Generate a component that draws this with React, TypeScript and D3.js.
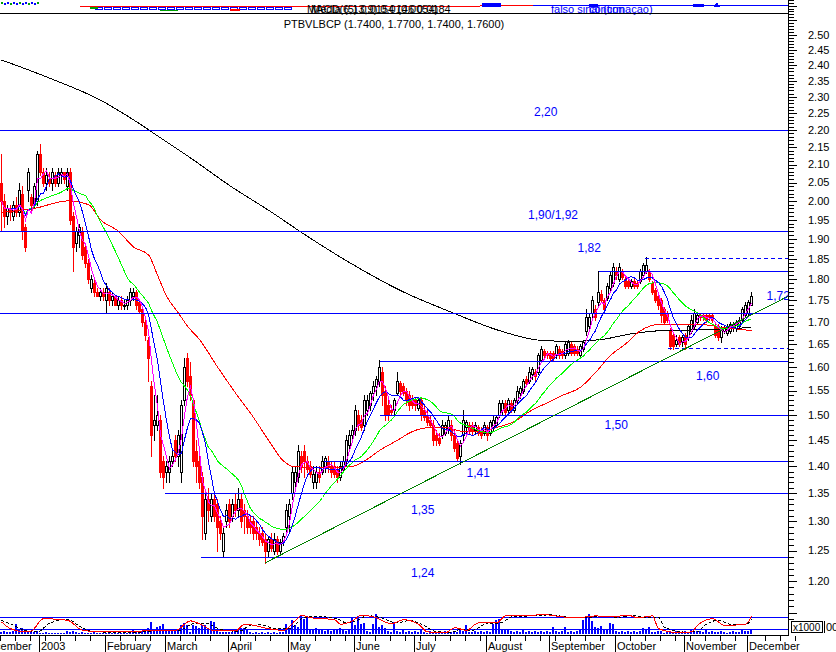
import React from 'react';
import * as d3 from 'd3';

const W = 836;
const H = 652;

// [open, high, low, close] per trading day (PTBVLBCP, Dec 2002 - Dec 2003)
const ohlc: [number, number, number, number][] = [
  [2.05, 2.13, 1.92, 2.0], [2.0, 2.02, 1.93, 1.96], [1.96, 1.99, 1.94, 1.98], [1.98, 1.99, 1.95, 1.97],
  [1.96, 2.0, 1.95, 1.99], [1.99, 2.01, 1.96, 1.97], [1.97, 2.05, 1.96, 2.03], [2.02, 2.04, 1.9, 1.92],
  [1.93, 1.94, 1.87, 1.88], [2.03, 2.09, 2.0, 2.08], [2.01, 2.02, 1.97, 1.99], [1.99, 2.05, 1.98, 2.04],
  [2.0, 2.14, 1.99, 2.13], [2.13, 2.16, 2.07, 2.08], [2.08, 2.09, 2.04, 2.05], [2.05, 2.09, 2.03, 2.07],
  [2.06, 2.08, 2.04, 2.05], [2.05, 2.09, 2.03, 2.08], [2.07, 2.08, 2.04, 2.05], [2.05, 2.09, 2.04, 2.08],
  [2.07, 2.09, 2.05, 2.08], [2.08, 2.08, 2.05, 2.06], [2.04, 2.09, 2.03, 2.08], [2.08, 2.09, 1.94, 1.95],
  [1.96, 1.97, 1.82, 1.88], [1.89, 1.93, 1.87, 1.92], [1.91, 1.94, 1.88, 1.93], [1.92, 1.93, 1.85, 1.86],
  [1.88, 1.89, 1.83, 1.84], [1.84, 1.85, 1.79, 1.8], [1.78, 1.81, 1.77, 1.8], [1.79, 1.8, 1.76, 1.77],
  [1.77, 1.78, 1.76, 1.76], [1.76, 1.78, 1.75, 1.77], [1.77, 1.78, 1.75, 1.76], [1.75, 1.79, 1.72, 1.78],
  [1.77, 1.78, 1.74, 1.75], [1.75, 1.77, 1.74, 1.76], [1.76, 1.76, 1.74, 1.74], [1.74, 1.76, 1.73, 1.75],
  [1.75, 1.76, 1.73, 1.74], [1.74, 1.75, 1.73, 1.74], [1.74, 1.76, 1.73, 1.75], [1.75, 1.78, 1.74, 1.77],
  [1.76, 1.78, 1.75, 1.77], [1.77, 1.775, 1.73, 1.74], [1.745, 1.75, 1.72, 1.725], [1.73, 1.735, 1.69, 1.7],
  [1.7, 1.705, 1.66, 1.67], [1.66, 1.665, 1.57, 1.62], [1.56, 1.57, 1.42, 1.46], [1.48, 1.54, 1.45, 1.49],
  [1.48, 1.54, 1.47, 1.5], [1.49, 1.5, 1.38, 1.39], [1.41, 1.42, 1.36, 1.38], [1.39, 1.41, 1.37, 1.4],
  [1.39, 1.42, 1.37, 1.41], [1.41, 1.43, 1.4, 1.42], [1.45, 1.46, 1.41, 1.42], [1.42, 1.47, 1.4, 1.46],
  [1.39, 1.53, 1.37, 1.52], [1.53, 1.62, 1.52, 1.6], [1.62, 1.63, 1.56, 1.57], [1.58, 1.61, 1.53, 1.54],
  [1.53, 1.535, 1.4, 1.41], [1.43, 1.45, 1.37, 1.4], [1.41, 1.42, 1.36, 1.37], [1.38, 1.39, 1.27, 1.31],
  [1.28, 1.35, 1.27, 1.34], [1.34, 1.36, 1.3, 1.32], [1.31, 1.35, 1.3, 1.34], [1.34, 1.35, 1.3, 1.31],
  [1.33, 1.34, 1.25, 1.29], [1.3, 1.31, 1.27, 1.28], [1.25, 1.29, 1.24, 1.28], [1.3, 1.33, 1.29, 1.32],
  [1.33, 1.34, 1.29, 1.3], [1.31, 1.34, 1.3, 1.33], [1.33, 1.35, 1.31, 1.32], [1.32, 1.36, 1.31, 1.34],
  [1.34, 1.35, 1.29, 1.3], [1.32, 1.33, 1.28, 1.31], [1.31, 1.32, 1.28, 1.29], [1.3, 1.31, 1.28, 1.29],
  [1.3, 1.31, 1.27, 1.28], [1.29, 1.3, 1.27, 1.28], [1.28, 1.29, 1.26, 1.27], [1.28, 1.29, 1.26, 1.265],
  [1.27, 1.28, 1.23, 1.25], [1.25, 1.275, 1.24, 1.27], [1.27, 1.28, 1.25, 1.255], [1.25, 1.28, 1.245, 1.27],
  [1.27, 1.275, 1.245, 1.25], [1.25, 1.27, 1.245, 1.265], [1.265, 1.28, 1.26, 1.275], [1.29, 1.33, 1.28, 1.32],
  [1.31, 1.34, 1.28, 1.33], [1.35, 1.4, 1.34, 1.39], [1.37, 1.4, 1.36, 1.39], [1.38, 1.44, 1.37, 1.43],
  [1.42, 1.43, 1.39, 1.4], [1.43, 1.44, 1.38, 1.41], [1.41, 1.42, 1.39, 1.395], [1.4, 1.41, 1.38, 1.385],
  [1.37, 1.4, 1.36, 1.385], [1.37, 1.4, 1.36, 1.39], [1.39, 1.4, 1.37, 1.38], [1.39, 1.42, 1.385, 1.41],
  [1.4, 1.42, 1.39, 1.415], [1.41, 1.42, 1.39, 1.4], [1.4, 1.41, 1.38, 1.39], [1.4, 1.41, 1.38, 1.385],
  [1.395, 1.4, 1.37, 1.38], [1.38, 1.41, 1.375, 1.4], [1.395, 1.42, 1.39, 1.41], [1.41, 1.46, 1.4, 1.45],
  [1.44, 1.47, 1.43, 1.46], [1.46, 1.48, 1.45, 1.47], [1.47, 1.52, 1.46, 1.51], [1.5, 1.51, 1.47, 1.48],
  [1.49, 1.5, 1.47, 1.475], [1.48, 1.54, 1.47, 1.53], [1.51, 1.54, 1.5, 1.53], [1.52, 1.55, 1.51, 1.545],
  [1.545, 1.57, 1.53, 1.56], [1.56, 1.58, 1.54, 1.575], [1.57, 1.615, 1.56, 1.6], [1.59, 1.6, 1.52, 1.54],
  [1.55, 1.56, 1.49, 1.5], [1.52, 1.53, 1.49, 1.5], [1.51, 1.52, 1.5, 1.505], [1.51, 1.535, 1.5, 1.53],
  [1.545, 1.59, 1.54, 1.57], [1.565, 1.57, 1.54, 1.55], [1.56, 1.565, 1.54, 1.545], [1.55, 1.555, 1.52, 1.53],
  [1.54, 1.55, 1.51, 1.52], [1.535, 1.54, 1.515, 1.52], [1.53, 1.535, 1.51, 1.52], [1.515, 1.535, 1.51, 1.53],
  [1.53, 1.535, 1.49, 1.5], [1.51, 1.52, 1.49, 1.495], [1.5, 1.51, 1.48, 1.485], [1.49, 1.5, 1.475, 1.48],
  [1.48, 1.49, 1.44, 1.45], [1.46, 1.47, 1.44, 1.45], [1.455, 1.465, 1.44, 1.445], [1.46, 1.49, 1.455, 1.48],
  [1.465, 1.485, 1.46, 1.48], [1.47, 1.5, 1.465, 1.49], [1.48, 1.49, 1.45, 1.46], [1.46, 1.47, 1.43, 1.435],
  [1.445, 1.45, 1.41, 1.415], [1.42, 1.45, 1.405, 1.445], [1.46, 1.51, 1.45, 1.49], [1.475, 1.49, 1.46, 1.485],
  [1.48, 1.485, 1.465, 1.47], [1.48, 1.485, 1.46, 1.47], [1.47, 1.485, 1.465, 1.48], [1.475, 1.48, 1.46, 1.465],
  [1.47, 1.475, 1.455, 1.46], [1.465, 1.485, 1.46, 1.48], [1.475, 1.48, 1.45, 1.46], [1.465, 1.49, 1.46, 1.485],
  [1.475, 1.5, 1.47, 1.49], [1.48, 1.5, 1.475, 1.495], [1.5, 1.53, 1.495, 1.525], [1.51, 1.53, 1.5, 1.525],
  [1.525, 1.53, 1.5, 1.505], [1.51, 1.535, 1.505, 1.53], [1.525, 1.53, 1.505, 1.51], [1.51, 1.535, 1.505, 1.53],
  [1.53, 1.56, 1.525, 1.55], [1.545, 1.56, 1.535, 1.555], [1.55, 1.575, 1.545, 1.57], [1.575, 1.58, 1.56, 1.565],
  [1.57, 1.6, 1.565, 1.59], [1.585, 1.6, 1.575, 1.595], [1.59, 1.595, 1.57, 1.58], [1.59, 1.63, 1.585, 1.625],
  [1.615, 1.645, 1.61, 1.64], [1.635, 1.64, 1.62, 1.625], [1.63, 1.635, 1.62, 1.625], [1.63, 1.635, 1.615, 1.62],
  [1.63, 1.635, 1.615, 1.62], [1.625, 1.65, 1.62, 1.645], [1.64, 1.645, 1.62, 1.625], [1.635, 1.64, 1.62, 1.625],
  [1.625, 1.655, 1.62, 1.65], [1.63, 1.66, 1.625, 1.655], [1.65, 1.655, 1.625, 1.63], [1.645, 1.65, 1.625, 1.63],
  [1.64, 1.645, 1.625, 1.63], [1.625, 1.65, 1.62, 1.645], [1.64, 1.66, 1.635, 1.655], [1.68, 1.73, 1.67, 1.71],
  [1.69, 1.72, 1.68, 1.71], [1.72, 1.76, 1.71, 1.75], [1.73, 1.74, 1.705, 1.71], [1.745, 1.82, 1.735, 1.77],
  [1.765, 1.775, 1.745, 1.75], [1.75, 1.755, 1.72, 1.73], [1.755, 1.79, 1.75, 1.785], [1.78, 1.82, 1.775, 1.81],
  [1.79, 1.84, 1.785, 1.83], [1.82, 1.83, 1.8, 1.81], [1.8, 1.84, 1.795, 1.83], [1.82, 1.825, 1.8, 1.805],
  [1.8, 1.805, 1.78, 1.785], [1.795, 1.8, 1.78, 1.785], [1.785, 1.8, 1.78, 1.795], [1.795, 1.8, 1.78, 1.785],
  [1.79, 1.795, 1.78, 1.785], [1.795, 1.825, 1.79, 1.82], [1.81, 1.84, 1.805, 1.835], [1.82, 1.855, 1.815, 1.835],
  [1.82, 1.825, 1.795, 1.8], [1.79, 1.795, 1.765, 1.77], [1.775, 1.78, 1.745, 1.75], [1.76, 1.765, 1.73, 1.74],
  [1.75, 1.755, 1.7, 1.715], [1.73, 1.735, 1.695, 1.7], [1.72, 1.725, 1.7, 1.705], [1.68, 1.685, 1.64, 1.645],
  [1.67, 1.675, 1.64, 1.645], [1.65, 1.67, 1.645, 1.66], [1.665, 1.67, 1.645, 1.65], [1.655, 1.67, 1.645, 1.665],
  [1.67, 1.675, 1.64, 1.65], [1.665, 1.695, 1.66, 1.69], [1.68, 1.715, 1.675, 1.705], [1.69, 1.73, 1.685, 1.72],
  [1.7, 1.72, 1.695, 1.715], [1.715, 1.72, 1.705, 1.71], [1.715, 1.72, 1.705, 1.71], [1.715, 1.72, 1.7, 1.705],
  [1.715, 1.72, 1.705, 1.71], [1.715, 1.72, 1.7, 1.705], [1.69, 1.695, 1.665, 1.67], [1.69, 1.695, 1.66, 1.665],
  [1.665, 1.69, 1.655, 1.685], [1.68, 1.69, 1.675, 1.685], [1.675, 1.695, 1.67, 1.69], [1.68, 1.7, 1.675, 1.695],
  [1.685, 1.7, 1.68, 1.695], [1.685, 1.705, 1.68, 1.7], [1.69, 1.71, 1.685, 1.705], [1.705, 1.735, 1.7, 1.73],
  [1.715, 1.745, 1.71, 1.74], [1.72, 1.75, 1.715, 1.745], [1.74, 1.77, 1.74, 1.76],
];

// volume (thousands)
const volumes: number[] = [
  250, 300, 200, 250, 300, 1000, 550, 650, 300, 350, 250, 200, 300, 150, 100, 200, 100, 100, 80, 120,
  100, 150, 300, 250, 350, 200, 150, 200, 100, 150, 100, 200, 150, 120, 100, 150, 120, 100, 150, 100,
  130, 100, 150, 250, 400, 300, 200, 350, 470, 600, 1200, 500, 700, 800, 1000, 400, 300, 450, 350, 400,
  900, 1100, 900, 250, 900, 800, 600, 950, 900, 500, 1300, 1200, 400, 200, 250, 200, 250, 200, 400, 450,
  650, 600, 400, 200, 150, 250, 100, 200, 150, 250, 100, 200, 150, 250, 200, 1000, 600, 1400, 900, 700,
  1900, 1500, 1600, 500, 400, 600, 450, 400, 300, 500, 300, 550, 500, 600, 450, 300, 400, 1700, 900, 1800,
  1000, 1100, 300, 200, 1000, 2000, 700, 900, 600, 300, 250, 1200, 300, 200, 400, 250, 300, 200, 350, 250,
  400, 250, 150, 300, 200, 250, 150, 200, 300, 250, 200, 300, 250, 600, 300, 900, 250, 200, 300, 200,
  350, 250, 300, 200, 1000, 1400, 1500, 500, 450, 500, 300, 200, 350, 250, 400, 200, 300, 250, 350, 200,
  300, 250, 300, 200, 700, 300, 250, 300, 700, 250, 300, 200, 300, 400, 1400, 1600, 2000, 1300, 700, 600,
  800, 500, 400, 1100, 1000, 300, 250, 350, 200, 300, 250, 350, 200, 300, 600, 500, 700, 250, 200, 350,
  300, 150, 250, 350, 200, 300, 150, 250, 300, 200, 400, 250, 300, 350, 200, 400, 250, 300, 250, 200,
  300, 250, 150, 200, 300, 250, 200, 400, 300, 350, 400,
];

// long moving averages: [day index, price]
const ma200: [number, number][] = [
  [0, 2.417], [16, 2.359], [33, 2.29], [43, 2.236], [54, 2.171], [63, 2.119], [76, 2.042], [90, 1.97],
  [100, 1.917], [116, 1.841], [133, 1.773], [150, 1.722], [166, 1.68], [180, 1.658], [190, 1.656],
  [200, 1.66], [210, 1.673], [220, 1.68], [233, 1.682], [250, 1.687],
];
const ma50: [number, number][] = [
  [0, 1.97], [11, 1.98], [22, 2.0], [29, 1.99], [33, 1.95], [39, 1.92], [44, 1.88], [49, 1.86], [52, 1.81],
  [55, 1.76], [59, 1.72], [62, 1.69], [66, 1.66], [72, 1.6], [78, 1.545], [84, 1.495], [89, 1.45], [94, 1.41],
  [97, 1.4], [106, 1.397], [117, 1.4], [121, 1.41], [126, 1.43], [132, 1.45], [137, 1.467], [143, 1.475],
  [148, 1.475], [154, 1.467], [160, 1.467], [165, 1.475], [171, 1.487], [176, 1.507], [182, 1.525],
  [187, 1.54], [193, 1.557], [198, 1.588], [203, 1.625], [208, 1.65], [213, 1.68], [220, 1.695],
  [231, 1.695], [242, 1.686], [250, 1.68],
];

// oscillator in the volume pane (0-100): red %K and black dashed %D
const oscK: [number, number][] = [
  [0, 57], [3, 23], [8, 7], [10, 12], [14, 73], [22, 65], [27, 15], [33, 7], [44, 7], [49, 15], [58, 15],
  [63, 62], [67, 40], [71, 12], [78, 12], [81, 45], [84, 40], [89, 23], [94, 15], [98, 65], [100, 90],
  [103, 78], [111, 68], [113, 45], [117, 62], [120, 90], [124, 82], [130, 48], [134, 68], [139, 45],
  [142, 7], [148, 3], [151, 28], [155, 15], [159, 52], [165, 52], [168, 87], [176, 90], [181, 93],
  [187, 82], [192, 78], [198, 87], [203, 82], [209, 90], [212, 78], [217, 87], [219, 23], [226, 3],
  [230, 7], [232, 40], [237, 73], [241, 40], [248, 45], [250, 85],
];
const oscD: [number, number][] = [
  [0, 65], [4, 40], [9, 10], [12, 8], [16, 50], [22, 70], [26, 35], [30, 10], [36, 6], [46, 6], [51, 12],
  [59, 14], [64, 48], [68, 50], [73, 20], [79, 10], [83, 38], [86, 42], [91, 25], [96, 22], [100, 72],
  [104, 85], [112, 72], [115, 52], [119, 68], [122, 88], [126, 80], [132, 52], [136, 64], [141, 38],
  [145, 8], [150, 5], [153, 20], [157, 15], [161, 45], [167, 55], [170, 82], [178, 88], [183, 92],
  [189, 80], [194, 78], [200, 85], [205, 80], [211, 88], [214, 80], [219, 80], [221, 30], [228, 6],
  [232, 8], [234, 35], [239, 65], [243, 45], [248, 42], [250, 70],
];

const monthNames = ['December', '2003', 'February', 'March', 'April', 'May', 'June', 'July', 'August',
  'September', 'October', 'November', 'December'];
const monthStarts = [-7, 13, 35, 55, 76, 96, 118, 138, 162, 183, 205, 228, 249];

// support / resistance levels: price, first day index, dashed
const levelPrices = [2.2, 1.92, 1.82, 1.852, 1.72, 1.642, 1.613, 1.5, 1.41, 1.35, 1.24];
const levelStarts = [0, 0, 199.5, 215, 0, 222.5, 126.5, 126.5, 108, 55, 67];
const levelDashed = [false, false, false, true, false, true, false, false, false, false, false];

const labelTexts = ['2,20', '1,90/1,92', '1,82', '1,72', '1,60', '1,50', '1,41', '1,35', '1,24'];
const labelLevels = [2.2, 1.92, 1.82, 1.72, 1.613, 1.5, 1.41, 1.35, 1.24];
const labelDays = [177.5, 175.5, 192, 255, 231.5, 201, 155, 136.5, 136.5];

const trendAnchors: [number, number][] = [[88, 1.23], [250, 1.716]];

const FONT = '"Liberation Sans", Arial, sans-serif';
const BLUE = '#0000ff';

function sma(values: number[], n: number) {
  return values.map((_, i) => d3.mean(values.slice(Math.max(0, i - n + 1), i + 1)) as number);
}

export default function App() {
  const last = ohlc.length - 1;
  const x = d3.scaleLinear().domain([0, last]).range([1.5, 1.5 + 3 * last]);
  const y = d3.scaleLog().domain([1.2, 2.2]).range([581, 130]);
  const vy = d3.scaleLinear().domain([0, 2000]).range([634, 614]);
  const oy = d3.scaleLinear().domain([0, 100]).range([633.3, 613.3]);
  const axisX = 788.5;

  const closes = ohlc.map((d) => d[3]);
  const magenta = sma(closes, 4);
  const blue = sma(closes, 8);
  const green = sma(closes, 20);

  const lineArr = d3.line<number>().x((_, i) => x(i)).y((v) => y(v));
  const linePairs = d3.line<[number, number]>().x((d) => x(d[0])).y((d) => y(d[1])).curve(d3.curveMonotoneX);
  const oscLine = d3.line<[number, number]>().x((d) => x(d[0])).y((d) => oy(d[1])).curve(d3.curveMonotoneX);

  const minor: number[] = [];
  for (let v = 114; v <= 262; v++) minor.push(v / 100);

  const p1 = [x(trendAnchors[0][0]), y(trendAnchors[0][1])];
  const p2 = [x(trendAnchors[1][0]), y(trendAnchors[1][1])];
  const slope = (p2[1] - p1[1]) / (p2[0] - p1[0]);
  const trendEnd = [axisX, p1[1] + slope * (axisX - p1[0])];

  const weekTicks: number[] = [];
  for (let i = -10; i <= 265; i += 5) {
    if (monthStarts.some((m) => Math.abs(m - i) < 2)) continue;
    weekTicks.push(i);
  }

  return (
    <svg width={W} height={H} style={{ position: 'absolute', left: 0, top: 0, background: '#fff' }}
      fontFamily={FONT}>
      <rect x={0} y={0} width={W} height={H} fill="#fff" />

      {/* top indicator strip (clipped MACD pane) */}
      <g shapeRendering="crispEdges">
        {d3.range(0, 13).map((i) => (
          <rect key={'a' + i} x={1 + i * 3} y={2 + (i % 2)} width={2} height={2} fill={i % 3 === 0 ? '#00a000' : BLUE} />
        ))}
        <line x1={533} x2={axisX} y1={5.5} y2={5.5} stroke={BLUE} />
        <line x1={80} x2={480} y1={6.5} y2={6.5} stroke="#ff0000" />
        {d3.range(0, 22).map((i) => (
          <rect key={'b' + i} x={95.5 + i * 9} y={7.5} width={7} height={2} fill="none" stroke={BLUE} />
        ))}
        <rect x={90} y={7} width={8} height={2} fill="#00a000" />
        <rect x={160} y={10} width={18} height={1} fill="#00a000" />
        <rect x={230} y={9} width={10} height={2} fill="#ff0000" />
        <line x1={480} x2={533} y1={5.5} y2={5.5} stroke="#ff0000" />
        <rect x={482} y={3} width={19} height={4} fill={BLUE} />
        <rect x={589} y={4} width={9} height={3} fill={BLUE} />
        <rect x={693} y={4} width={11} height={3} fill={BLUE} />
        <path d="M714,7 L717,2 L720,7 Z" fill={BLUE} />
      </g>
      <text x={307} y={13} fontSize={11} fill="#000">MACD(6,13,9) 0.0146 0.0184</text>
      <text x={311} y={13} fontSize={11} fill="#000">Média (5) 0.0154 (0.0054)</text>
      <text x={551} y={13} fontSize={11} fill={BLUE}>falso sinal (con</text>
      <text x={589} y={13} fontSize={11} fill={BLUE}>confirmação)</text>
      <line x1={0} x2={axisX} y1={13.5} y2={13.5} stroke="#000" shapeRendering="crispEdges" />

      <text x={394} y={28} fontSize={11} textAnchor="middle" fill="#000">
        PTBVLBCP (1.7400, 1.7700, 1.7400, 1.7600)
      </text>

      {/* candles */}
      <g shapeRendering="crispEdges">
        {ohlc.map(([o, h, l, c], i) => {
          const up = c >= o;
          const left = x(i) - 1.5;
          const top = Math.round(y(Math.max(o, c)));
          const bot = Math.round(y(Math.min(o, c)));
          const col = up ? '#000' : '#ff0000';
          return (
            <g key={i}>
              <line x1={left + 1.5} x2={left + 1.5} y1={Math.round(y(h))} y2={Math.round(y(l)) + 1} stroke={col} />
              {up ? (
                <rect x={left + 0.5} y={top + 0.5} width={2} height={Math.max(1, bot - top)} fill="#fff" stroke="#000" />
              ) : (
                <rect x={left} y={top} width={3} height={Math.max(1, bot - top + 1)} fill="#ff0000" />
              )}
            </g>
          );
        })}
      </g>

      {/* moving averages */}
      <g fill="none" strokeWidth={1} shapeRendering="crispEdges">
        <path d={linePairs(ma200) || ''} stroke="#000" />
        <path d={linePairs(ma50) || ''} stroke="#ff0000" />
        <path d={lineArr(green) || ''} stroke="#00ff00" />
        <path d={lineArr(blue) || ''} stroke="#0000ff" />
        <path d={lineArr(magenta) || ''} stroke="#ff00ff" />
      </g>

      {/* levels */}
      <g shapeRendering="crispEdges">
        {levelPrices.map((p, k) => (
          <line key={k} x1={x(levelStarts[k]) - 1.5} x2={axisX} y1={Math.round(y(p)) + 0.5} y2={Math.round(y(p)) + 0.5}
            stroke={BLUE} strokeDasharray={levelDashed[k] ? '4,3' : undefined} />
        ))}
        <line x1={p1[0]} y1={p1[1]} x2={trendEnd[0]} y2={trendEnd[1]} stroke="#008000" />
      </g>
      {labelTexts.map((t, k) => {
        const dy = [-14, -12, -19, -13, 19, 14, 16, 21, 20][k];
        return (
          <text key={t} x={x(labelDays[k])} y={Math.round(y(labelLevels[k])) + dy} fontSize={12} fill={BLUE}>{t}</text>
        );
      })}

      {/* volume pane */}
      <g shapeRendering="crispEdges">
        {volumes.map((v, i) => (
          <rect key={i} x={x(i) - 1.5} y={vy(v)} width={2} height={vy(0) - vy(v)} fill={BLUE} />
        ))}
        <line x1={0} x2={axisX} y1={Math.round(oy(80)) + 0.5} y2={Math.round(oy(80)) + 0.5} stroke={BLUE} />
        <line x1={0} x2={axisX} y1={Math.round(oy(20)) + 0.5} y2={Math.round(oy(20)) + 0.5} stroke={BLUE} />
      </g>
      <g fill="none" shapeRendering="crispEdges">
        <path d={oscLine(oscD) || ''} stroke="#000" strokeDasharray="3,2" />
        <path d={oscLine(oscK) || ''} stroke="#ff0000" />
      </g>

      {/* price axis */}
      <g shapeRendering="crispEdges">
        <line x1={axisX} x2={axisX} y1={0} y2={636} stroke="#000" />
        {minor.map((v) => {
          const major = Math.round(v * 100) % 5 === 0;
          const yy = Math.round(y(v)) + 0.5;
          return <line key={v} x1={axisX} x2={axisX + (major ? 8 : 5)} y1={yy} y2={yy} stroke="#000" />;
        })}
      </g>
      {d3.range(120, 255, 5).map((c) => (
        <text key={c} x={808} y={y(c / 100)} dy="0.35em" fontSize={11} fill="#000">{(c / 100).toFixed(2)}</text>
      ))}
      <rect x={791.5} y={621.5} width={31} height={11} fill="#fff" stroke="#000" shapeRendering="crispEdges" />
      <text x={793} y={631} fontSize={10} fill="#000">x1000</text>
      <line x1={824.5} x2={824.5} y1={621} y2={633} stroke="#000" shapeRendering="crispEdges" />
      <text x={826} y={631} fontSize={11} fill="#000">00</text>

      {/* time axis */}
      <g shapeRendering="crispEdges">
        <line x1={0} x2={axisX} y1={635.5} y2={635.5} stroke="#000" />
        {weekTicks.map((i) => (
          <line key={i} x1={x(i) - 1} x2={x(i) - 1} y1={636} y2={641} stroke="#000" />
        ))}
        {monthStarts.map((m, k) => (
          <line key={k} x1={x(m) - 1} x2={x(m) - 1} y1={636} y2={652} stroke="#000" />
        ))}
      </g>
      {monthNames.map((n, k) => (
        <text key={k} x={x(monthStarts[k]) + 0.5} y={650} fontSize={11} fill="#000">{n}</text>
      ))}
    </svg>
  );
}
